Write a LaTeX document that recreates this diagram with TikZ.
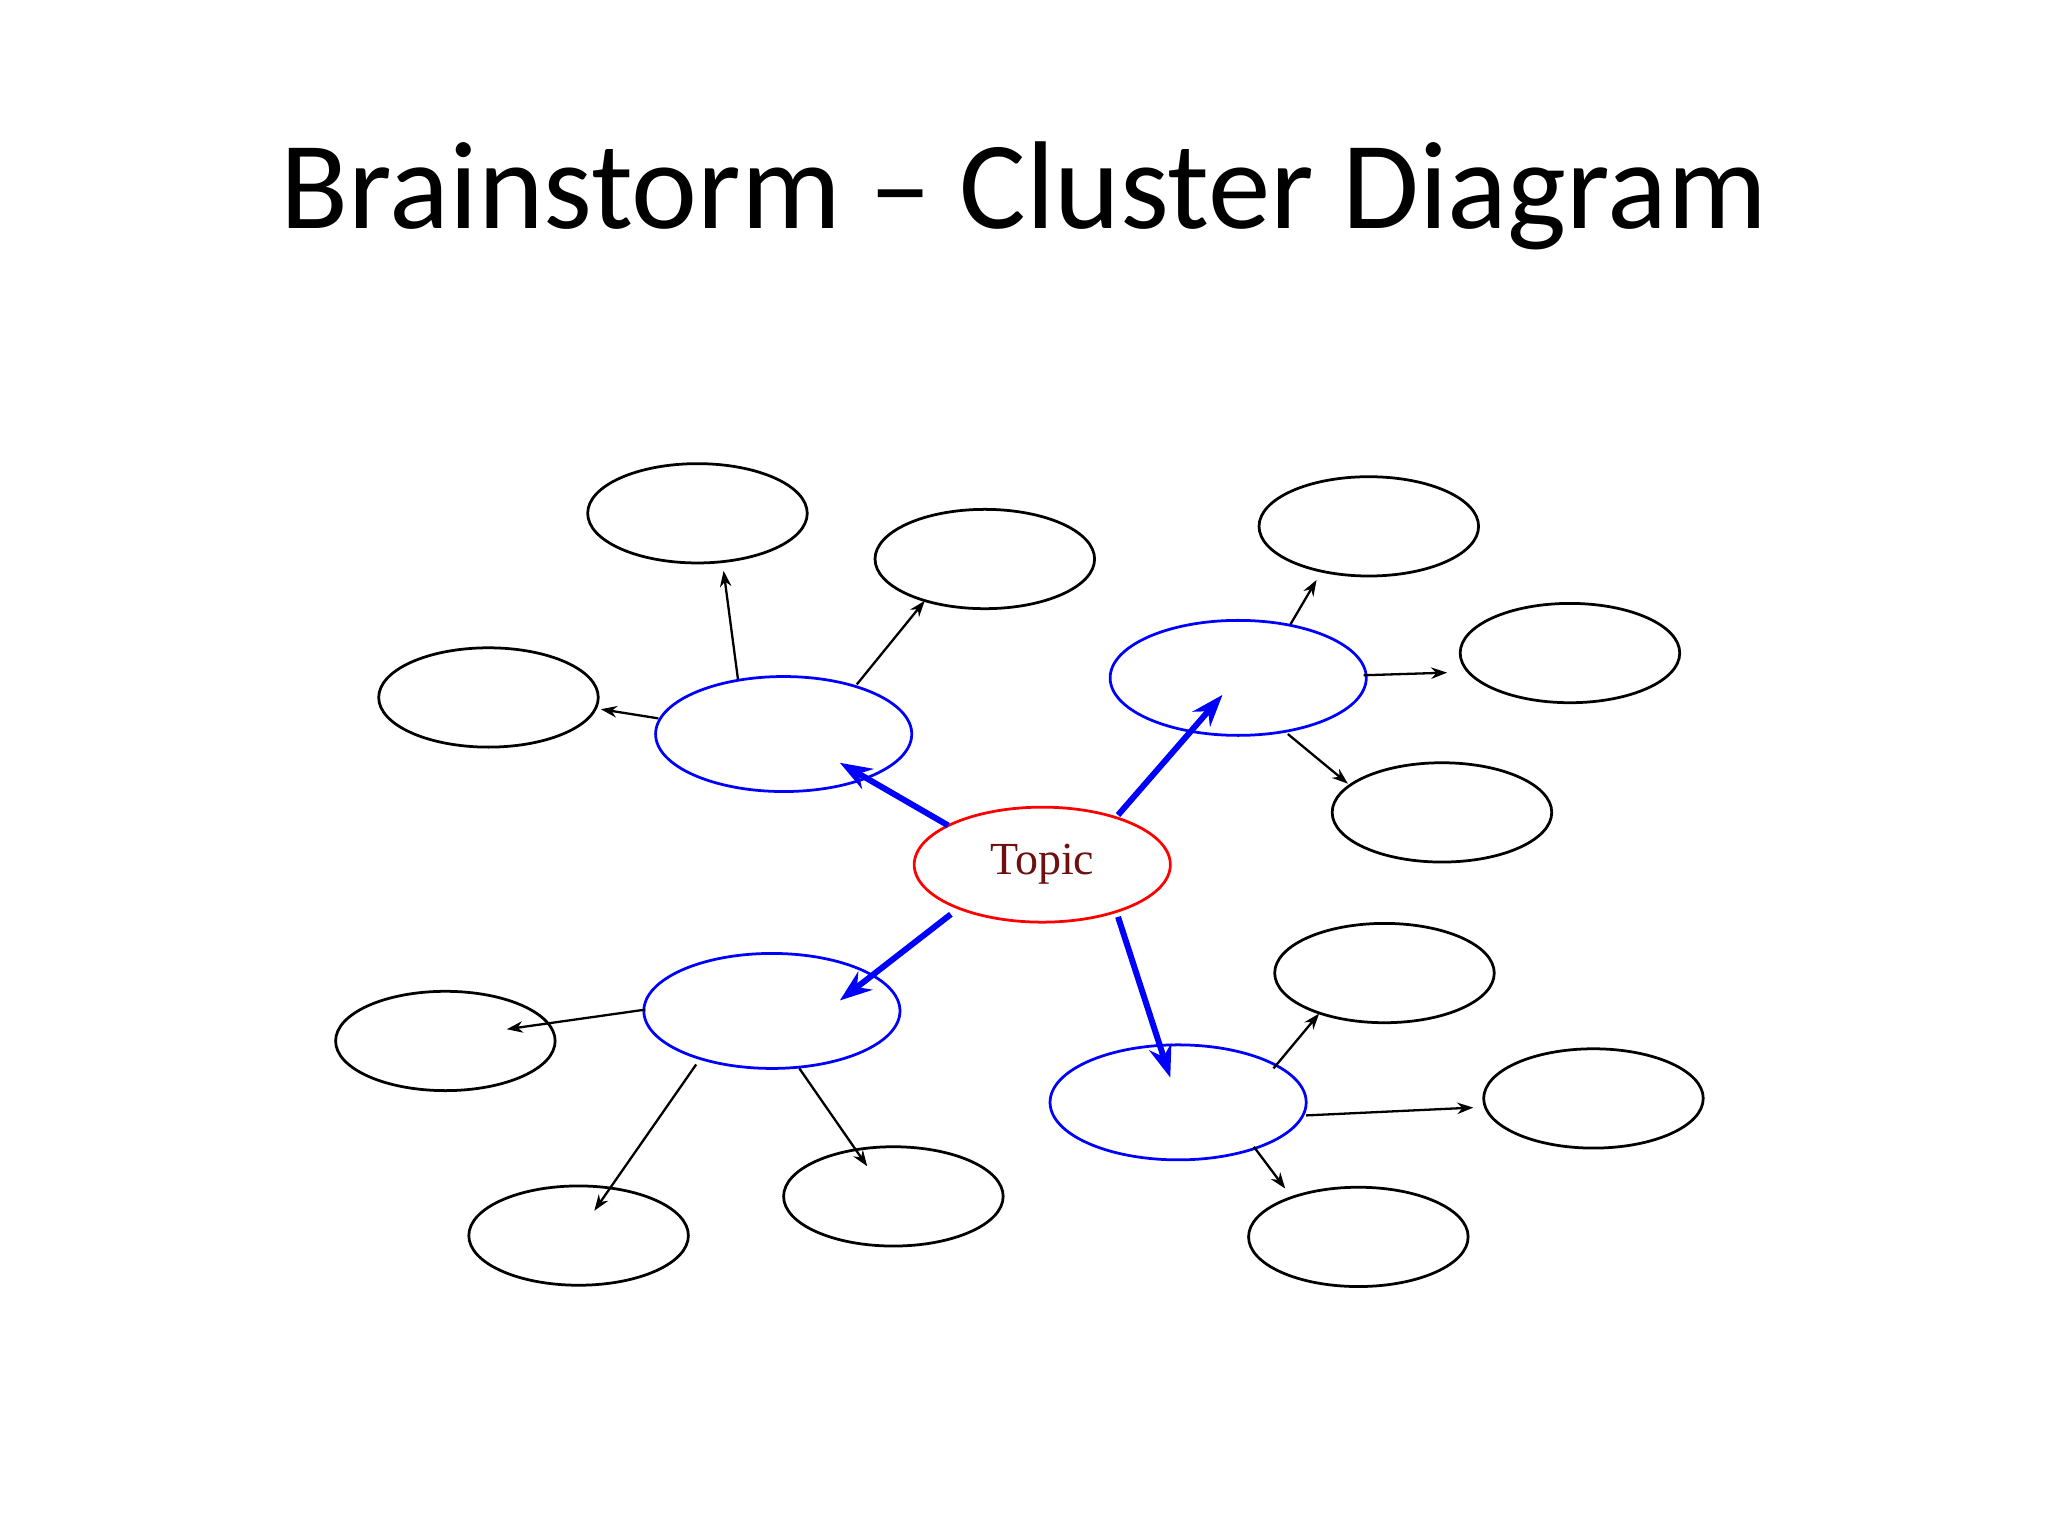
\documentclass[tikz,border=0pt]{standalone}
\usepackage{fontspec}
\setmainfont{Carlito}
\newfontfamily\topicfont{Liberation Serif}
\usetikzlibrary{shapes.geometric,arrows.meta}
\definecolor{topicred}{HTML}{6E1010}
\begin{document}
\begin{tikzpicture}[x=0.01cm,y=-0.01cm,
  leaf/.style={ellipse,draw=black,line width=0.6pt,minimum width=1.68cm,minimum height=0.76cm,inner sep=0},
  mid/.style={ellipse,draw=blue,line width=0.6pt,minimum width=1.96cm,minimum height=0.88cm,inner sep=0},
  bl/.style={draw=blue,line width=1.3pt,-{Stealth[length=7pt,width=5pt]}},
  bk/.style={draw=black,line width=0.5pt,-{Stealth[length=3.5pt,width=2.5pt]}}]
\useasboundingbox[fill=white] (0,0) rectangle (1568,1176);
\node[font=\fontsize{27.2}{32}\selectfont] (title) at (784,150) {Brainstorm – Cluster Diagram};
\node[ellipse,draw=red,line width=0.6pt,minimum width=1.96cm,minimum height=0.88cm,inner sep=0,
  font=\topicfont\fontsize{10}{12}\selectfont,text=topicred] (topic) at (798,662) {Topic};
\node[mid] (ul) at (600,562) {};
\node[mid] (ur) at (948,519) {};
\node[mid] (ll) at (591,774) {};
\node[mid] (lr) at (902,844) {};
\node[leaf] (a1) at (534,393) {};
\node[leaf] (a2) at (754,428) {};
\node[leaf] (a3) at (374,534) {};
\node[leaf] (b1) at (1048,403) {};
\node[leaf] (b2) at (1202,500) {};
\node[leaf] (b3) at (1104,622) {};
\node[leaf] (c1) at (341,797) {};
\node[leaf] (c2) at (443,946) {};
\node[leaf] (c3) at (684,916) {};
\node[leaf] (d1) at (1060,745) {};
\node[leaf] (d2) at (1220,841) {};
\node[leaf] (d3) at (1040,947) {};
% blue arrows
\coordinate (t1s) at (726,632); \coordinate (t1e) at (643,584);
\coordinate (t2s) at (856,624); \coordinate (t2e) at (936,532);
\coordinate (t3s) at (728,700); \coordinate (t3e) at (643,766);
\coordinate (t4s) at (856,702); \coordinate (t4e) at (896,825);
\draw[bl] (t1s) -- (t1e);
\draw[bl] (t2s) -- (t2e);
\draw[bl] (t3s) -- (t3e);
\draw[bl] (t4s) -- (t4e);
% black arrows
\coordinate (a1s) at (565,520); \coordinate (a1e) at (554,437);
\coordinate (a2s) at (656,524); \coordinate (a2e) at (708,460);
\coordinate (a3s) at (504,550); \coordinate (a3e) at (460,543);
\coordinate (b1s) at (988,478); \coordinate (b1e) at (1008,444);
\coordinate (b2s) at (1044,517); \coordinate (b2e) at (1108,515);
\coordinate (b3s) at (986,562); \coordinate (b3e) at (1032,600);
\coordinate (c1s) at (494,773); \coordinate (c1e) at (388,788);
\coordinate (c2s) at (533,815); \coordinate (c2e) at (455,927);
\coordinate (c3s) at (612,818); \coordinate (c3e) at (664,893);
\coordinate (d1s) at (975,818); \coordinate (d1e) at (1010,776);
\coordinate (d2s) at (1000,854); \coordinate (d2e) at (1128,848);
\coordinate (d3s) at (960,878); \coordinate (d3e) at (984,910);
\foreach \n in {a1,a2,a3,b1,b2,b3,c1,c2,c3,d1,d2,d3}
  \draw[bk] (\n s) -- (\n e);
\end{tikzpicture}
\end{document}
